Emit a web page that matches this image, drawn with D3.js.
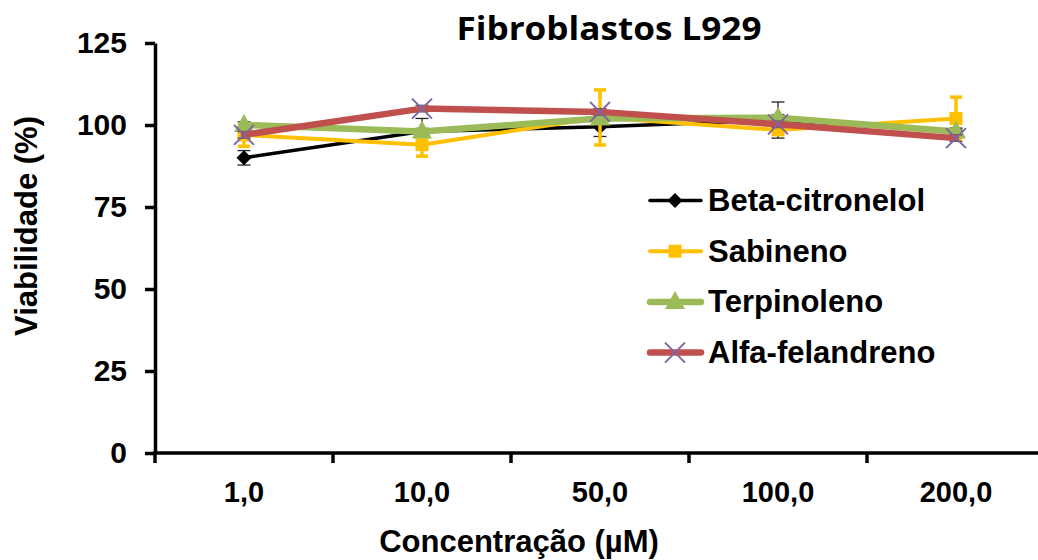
<!DOCTYPE html>
<html>
<head>
<meta charset="utf-8">
<script src="https://cdn.jsdelivr.net/npm/d3@7"></script>
<style>
  body { margin: 0; background: #fff; }
  svg { display: block; font-family: "Liberation Sans", Arial, sans-serif; font-weight: bold; }
</style>
</head>
<body>
<div id="chart"></div>
<script>
// ── data ──
const concs = ["1,0", "10,0", "50,0", "100,0", "200,0"];
const betaCitronelol = [90, 98, 99.5, 101.5, 98];
const betaErr = [2.2, 4, 3, 5.5, 1];
const sabineno = [97, 94, 102.3, 98.5, 102];
const sabErr = [3.5, 3.5, 8.4, 1, 6.5];
const terpinoleno = [100, 98, 102, 102.2, 98];
const terpErr = [1, 1, 1, 1, 1];
const alfaFelandreno = [97, 105, 104, 100.2, 96];
const alfaErr = [1, 1, 1, 1, 1];
const yTicks = [0, 25, 50, 75, 100, 125];

const series = [
  { name: "Beta-citronelol", vals: betaCitronelol, err: betaErr, color: "#000", lw: 3.5, marker: "diamond", mcolor: "#000", ecolor: "#222", ew: 1.3 },
  { name: "Sabineno", vals: sabineno, err: sabErr, color: "#FFC000", lw: 4, marker: "square", mcolor: "#FFC000", ecolor: "#FFC000", ew: 3.5 },
  { name: "Terpinoleno", vals: terpinoleno, err: terpErr, color: "#9BBB59", lw: 6.5, marker: "triangle", mcolor: "#9BBB59", ecolor: "#555", ew: 1.3 },
  { name: "Alfa-felandreno", vals: alfaFelandreno, err: alfaErr, color: "#C0504D", lw: 6.5, marker: "cross", mcolor: "#8064A2", ecolor: "#555", ew: 1.3 },
];

const W = 1038, H = 560;
const svg = d3.select("#chart").append("svg").attr("width", W).attr("height", H);

const x = d3.scaleBand().domain(concs).range([155, 155 + 5 * 178]).padding(0);
const y = d3.scaleLinear().domain([0, 125]).range([453, 43]);
const cx = (i) => x(concs[i]) + x.bandwidth() / 2;

// ── axes ──
const yAxis = svg.append("g").attr("transform", `translate(${x.range()[0]},0)`)
  .call(d3.axisLeft(y).tickValues(yTicks).tickSize(10).tickSizeOuter(0).tickPadding(18));
yAxis.select(".domain").attr("stroke", "#000").attr("stroke-width", 3.5);
yAxis.selectAll(".tick line").attr("stroke", "#000").attr("stroke-width", 3.5);
yAxis.selectAll("text").attr("font-size", 30).attr("font-weight", "bold").attr("fill", "#000")
  .attr("font-family", "Liberation Sans, Arial, sans-serif");

const xAxis = svg.append("g").attr("transform", `translate(0,${y(0)})`)
  .call(d3.axisBottom(x).tickSize(0).tickPadding(28));
xAxis.select(".domain").remove();
xAxis.selectAll("text").attr("font-size", 29).attr("font-weight", "bold").attr("fill", "#000")
  .attr("font-family", "Liberation Sans, Arial, sans-serif");
svg.append("line")
  .attr("x1", x.range()[0] - 1.75).attr("x2", W)
  .attr("y1", y(0)).attr("y2", y(0))
  .attr("stroke", "#000").attr("stroke-width", 3.5);
// band boundary ticks
svg.selectAll(".xtick").data(d3.range(concs.length)).enter().append("line")
  .attr("x1", (i) => x(concs[i])).attr("x2", (i) => x(concs[i]))
  .attr("y1", y(0)).attr("y2", y(0) + 10)
  .attr("stroke", "#000").attr("stroke-width", 3.5);

// axis titles
svg.append("text").attr("x", 519).attr("y", 552).attr("text-anchor", "middle")
  .attr("font-size", 31).text("Concentração (µM)");
svg.append("text").attr("transform", `translate(37,226) rotate(-90)`)
  .attr("text-anchor", "middle").attr("font-size", 31).text("Viabilidade (%)");
svg.append("text").attr("x", 609).attr("y", 40).attr("text-anchor", "middle")
  .attr("font-size", 33).attr("font-family", "'Open Sans', Lato, sans-serif").attr("font-weight", "bold")
  .attr("textLength", 305).attr("lengthAdjust", "spacingAndGlyphs")
  .text("Fibroblastos L929");

// ── markers ──
function drawMarker(g, type, px, py, color) {
  if (type === "diamond") {
    const s = 7.5;
    g.append("path").attr("d", `M${px},${py - s}L${px + s},${py}L${px},${py + s}L${px - s},${py}Z`).attr("fill", color);
  } else if (type === "square") {
    const s = 6.5;
    g.append("path").attr("d", `M${px - s},${py - s}H${px + s}V${py + s}H${px - s}Z`).attr("fill", color);
  } else if (type === "triangle") {
    g.append("path").attr("d", `M${px},${py - 11}L${px + 10},${py + 7}L${px - 10},${py + 7}Z`).attr("fill", color);
  } else {
    const s = 10;
    g.append("path").attr("d", `M${px - s},${py - s}L${px + s},${py + s}M${px - s},${py + s}L${px + s},${py - s}`)
      .attr("stroke", color).attr("stroke-width", 2).attr("fill", "none");
  }
}

const line = d3.line().x((d, i) => cx(i)).y((d) => y(d));

series.forEach((s) => {
  const g = svg.append("g");
  // error bars
  s.vals.forEach((v, i) => {
    const e = s.err[i];
    const cw = s.ew > 2 ? 6 : 6.5;
    g.append("line").attr("x1", cx(i)).attr("x2", cx(i)).attr("y1", y(v - e)).attr("y2", y(v + e))
      .attr("stroke", s.ecolor).attr("stroke-width", s.ew);
    [v - e, v + e].forEach((ev) => {
      g.append("line").attr("x1", cx(i) - cw).attr("x2", cx(i) + cw).attr("y1", y(ev)).attr("y2", y(ev))
        .attr("stroke", s.ecolor).attr("stroke-width", s.ew);
    });
  });
  g.append("path").datum(s.vals).attr("d", line).attr("fill", "none")
    .attr("stroke", s.color).attr("stroke-width", s.lw).attr("stroke-linejoin", "round").attr("stroke-linecap", "round");
  s.vals.forEach((v, i) => drawMarker(g, s.marker, cx(i), y(v), s.mcolor));
});

// ── legend ──
const leg = svg.append("g");
series.forEach((s, i) => {
  const ly = 200.5 + i * 50.7;
  leg.append("line").attr("x1", 650).attr("x2", 701).attr("y1", ly).attr("y2", ly)
    .attr("stroke", s.color).attr("stroke-width", s.lw).attr("stroke-linecap", "round");
  drawMarker(leg, s.marker, 675, ly, s.mcolor);
  leg.append("text").attr("x", 708).attr("y", ly + 10.5).attr("font-size", 31).text(s.name);
});
</script>
</body>
</html>
